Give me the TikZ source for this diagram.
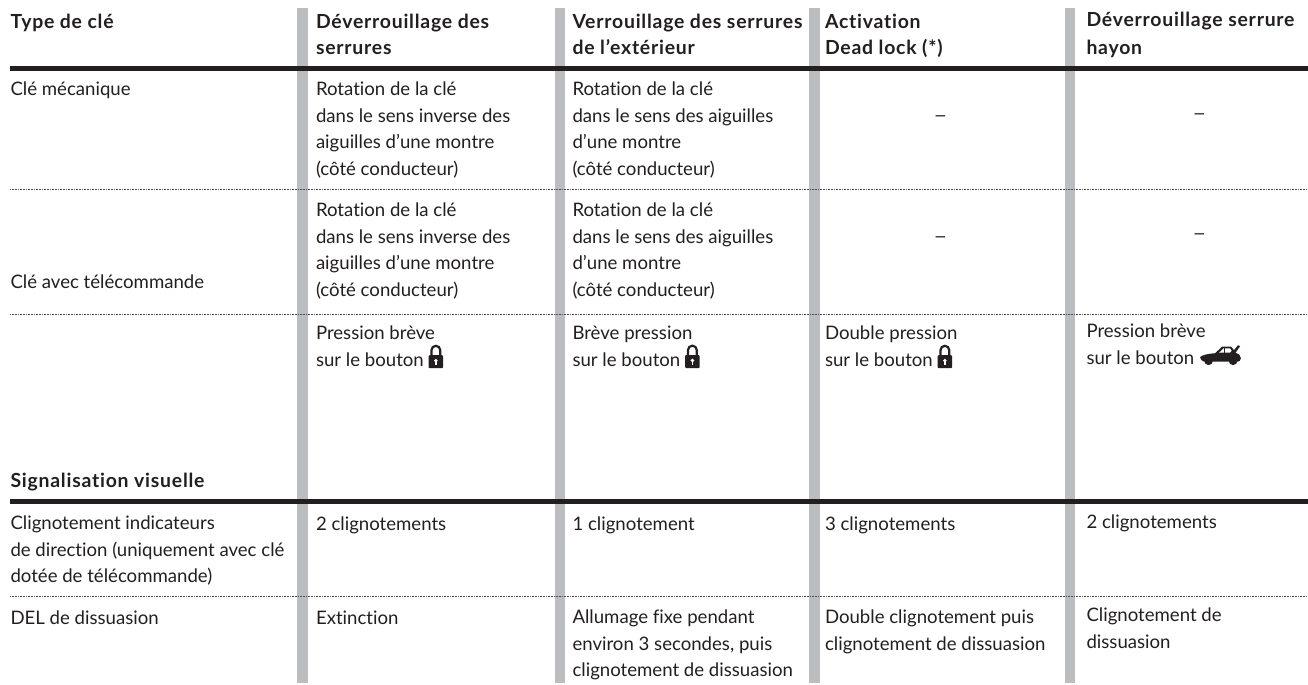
\documentclass[tikz,border=0pt]{standalone}
\usepackage{fontspec}
\setmainfont{Lato}[Ligatures=NoCommon,BoldFeatures={LetterSpace=4}]
\definecolor{ink}{HTML}{231F20}
\definecolor{bar}{HTML}{BCBDC1}
\tikzset{
  barline/.style={draw=bar,line width=10.6bp},
  heavy/.style={draw=ink,line width=5.2bp},
  dotted rule/.style={draw=ink!80,line width=0.8bp,dash pattern=on 0.8bp off 0.8bp},
  cell/.style={anchor=north west,inner sep=0pt,outer sep=0pt,text=ink,font=\fontsize{18.6bp}{26.5bp}\selectfont,align=left,execute at begin node={\rule{0pt}{14bp}}},
  head/.style={cell,font=\fontsize{19.4bp}{26.5bp}\selectfont\bfseries},
  dashcell/.style={cell,anchor=north,font=\fontsize{14bp}{26.5bp}\selectfont\bfseries}
}
\newcommand{\lockglyph}{\begin{tikzpicture}[baseline=0pt,x=1bp,y=1bp]
 \fill[ink,rounded corners=1] (0,-2) rectangle (14.6,11);
 \draw[ink,line width=2.2bp] (2.9,11) -- (2.9,16) arc (180:0:4.4) -- (11.7,11);
 \fill[white] (7.3,5.6) circle (1.9);
 \fill[white] (6.5,1) rectangle (8.1,5);
\end{tikzpicture}}
\newcommand{\cardglyph}{\hspace{1bp}\begin{tikzpicture}[baseline=0pt,x=1bp,y=1bp]
 \fill[ink] (0,7) .. controls (1,9) and (8,10.5) .. (15,11) -- (22,17.5) -- (31,17.5) -- (34,14) -- (38,19) -- (40,18) -- (35.5,11.5) .. controls (38,11) and (41,9) .. (40.8,6) .. controls (40.8,3.5) and (39,2.5) .. (37.5,2.5) -- (4,2.5) .. controls (2,3) and (0,5) .. (0,7) -- cycle;
 \fill[white] (19,11.6) -- (23.5,15.8) -- (30,15.8) -- (31.5,13.5) -- (30,11.6) -- cycle;
 \fill[ink] (23.5,11.6) rectangle (25,16);
 \fill[ink] (8.5,3.5) circle (4.4); \fill[ink] (33,3.5) circle (4.4);
\end{tikzpicture}}
\begin{document}
\begin{tikzpicture}[x=1bp,y=-1bp]
\useasboundingbox (0,0) rectangle (1308,684);
\fill[white] (0,0) rectangle (1308,684);
% vertical bars
\foreach \n/\x in {va/302.3,vb/560,vc/814.5,vd/1070}{
  \coordinate (\n t) at (\x,8);
  \coordinate (\n b) at (\x,683);
  \draw[barline] (\n t) -- (\n b);
}
% rules
\coordinate (h1l) at (10,68.5); \coordinate (h1r) at (1308,68.5);
\coordinate (h2l) at (10,501.7); \coordinate (h2r) at (1308,501.7);
\coordinate (d1l) at (10,189.7); \coordinate (d1r) at (1308,189.7);
\coordinate (d2l) at (10,314.3); \coordinate (d2r) at (1308,314.3);
\coordinate (d3l) at (10,596.7); \coordinate (d3r) at (1308,596.7);
\draw[heavy] (h1l) -- (h1r);
\draw[heavy] (h2l) -- (h2r);
\draw[dotted rule] (d1l) -- (d1r);
\draw[dotted rule] (d2l) -- (d2r);
\draw[dotted rule] (d3l) -- (d3r);
% header
\node[head] (h0) at (10.5,14) {Type de clé};
\node[head] (h1) at (316,14) {Déverrouillage des\\serrures};
\node[head] (h2) at (572.5,14) {Verrouillage des serrures\\de l’extérieur};
\node[head] (h3) at (825,14) {Activation\\Dead lock (*)};
\node[head] (h4) at (1086.5,12) {Déverrouillage serrure\\[1.5bp]hayon};
% row 1
\node[cell] (r1a) at (10.5,82) {Clé mécanique};
\node[cell] (r1b) at (316,82) {Rotation de la clé\\dans le sens inverse des\\aiguilles d’une montre\\(côté conducteur)};
\node[cell] (r1c) at (572.5,82) {Rotation de la clé\\dans le sens des aiguilles\\d’une montre\\(côté conducteur)};
\node[dashcell] (r1d) at (940.5,106.7) {—};
\node[dashcell] (r1e) at (1199.5,105) {—};
% row 2
\node[cell] (r2b) at (316,203) {Rotation de la clé\\dans le sens inverse des\\aiguilles d’une montre\\(côté conducteur)};
\node[cell] (r2c) at (572.5,203) {Rotation de la clé\\dans le sens des aiguilles\\d’une montre\\(côté conducteur)};
\node[dashcell] (r2d) at (940.5,227.7) {—};
\node[dashcell] (r2e) at (1199.5,224.5) {—};
\node[cell] (r2a) at (10.5,274) {Clé avec télécommande};
% row 3
\node[cell] (r3b) at (316,326) {Pression brève\\sur le bouton \lockglyph};
\node[cell] (r3c) at (572.5,326) {Brève pression\\sur le bouton \lockglyph};
\node[cell] (r3d) at (825,326) {Double pression\\sur le bouton \lockglyph};
\node[cell] (r3e) at (1086.5,324) {Pression brève\\sur le bouton \cardglyph};
% signalisation
\node[head] (s0) at (10.5,473) {Signalisation visuelle};
\node[cell] (s1a) at (10.5,516) {Clignotement indicateurs\\de direction (uniquement avec clé\\dotée de télécommande)};
\node[cell] (s1b) at (316,516) {2 clignotements};
\node[cell] (s1c) at (572.5,516) {1 clignotement};
\node[cell] (s1d) at (825,516) {3 clignotements};
\node[cell] (s1e) at (1086.5,514) {2 clignotements};
\node[cell] (s2a) at (10.5,610) {DEL de dissuasion};
\node[cell] (s2b) at (316,610) {Extinction};
\node[cell] (s2c) at (572.5,610) {Allumage fixe pendant\\environ 3 secondes, puis\\clignotement de dissuasion};
\node[cell] (s2d) at (825,610) {Double clignotement puis\\clignotement de dissuasion};
\node[cell] (s2e) at (1086.5,608) {Clignotement de\\dissuasion};
\end{tikzpicture}
\end{document}
